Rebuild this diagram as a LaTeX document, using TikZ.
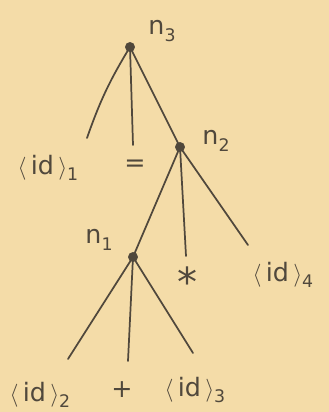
\documentclass[tikz,border=0pt]{standalone}
\usepackage{fontspec}
\setmainfont{DejaVu Sans}
\definecolor{paper}{RGB}{244,220,168}
\definecolor{ink}{RGB}{80,72,60}
\newcommand{\sbs}[1]{\raisebox{-5pt}{\fontsize{13}{13}\selectfont #1}}
\newcommand{\idt}[1]{$\langle$\,id\,$\rangle$\sbs{#1}}
\tikzset{
  edge/.style={draw=ink,line width=1.3pt,line cap=round},
  dot/.style={circle,fill=ink,draw=ink,inner sep=0pt,minimum size=7pt},
  lbl/.style={text=ink,font=\fontsize{19}{22}\selectfont,inner sep=1pt},
  nlbl/.style={text=ink,font=\fontsize{19}{22}\selectfont,inner sep=1pt},
}
\begin{document}
\begin{tikzpicture}[x=0.75pt,y=-0.75pt]
\fill[paper] (0,0) rectangle (329,412);
\useasboundingbox (0,0) rectangle (329,412);
% internal nodes
\node[dot] (n3) at (130,47) {};
\node[dot] (n2) at (180,147) {};
\node[dot] (n1) at (133,257) {};
\node[nlbl] (l3) at (162,31) {n\sbs{3}};
\node[nlbl] (l2) at (216,141) {n\sbs{2}};
\node[nlbl] (l1) at (99,240) {n\sbs{1}};
% line ends
\coordinate (e31) at (87,138);
\coordinate (e32) at (133,145);
\coordinate (e22) at (186,256);
\coordinate (e23) at (248,245);
\coordinate (e11) at (68,359);
\coordinate (e12) at (128,361);
\coordinate (e13) at (193,353);
% leaves
\node[lbl] (id1) at (48,168) {\idt{1}};
\node[lbl] (eq) at (135,166) {=};
\node[lbl,font=\fontsize{30}{30}\selectfont] (st) at (188,282) {*};
\node[lbl] (id4) at (283,275) {\idt{4}};
\node[lbl] (id2) at (40,395) {\idt{2}};
\node[lbl] (pl) at (122,390) {+};
\node[lbl] (id3) at (195,390) {\idt{3}};
% edges
\draw[edge] (n3.center) to[bend right=6] (e31);
\draw[edge] (n3.center) -- (e32);
\draw[edge] (n3.center) -- (n2.center);
\draw[edge] (n2.center) -- (n1.center);
\draw[edge] (n2.center) -- (e22);
\draw[edge] (n2.center) -- (e23);
\draw[edge] (n1.center) -- (e11);
\draw[edge] (n1.center) -- (e12);
\draw[edge] (n1.center) -- (e13);
\end{tikzpicture}
\end{document}
